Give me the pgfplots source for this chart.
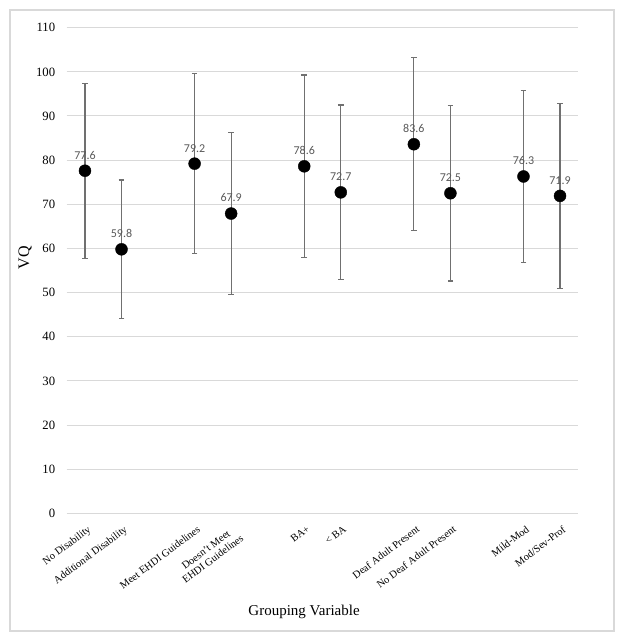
\documentclass[border=0pt]{standalone}
\usepackage{pgfplots}
\pgfplotsset{compat=1.18}
\usepackage{pgfplotstable}
\usepackage{fontspec}
\setmainfont{Liberation Serif}
\newfontfamily\calibri{Carlito}
\definecolor{gridgray}{HTML}{D9D9D9}
\definecolor{errgray}{HTML}{707070}
\definecolor{lblgray}{HTML}{595959}
\pgfplotstableread{
x y e
0 77.6 19.8
1 59.8 15.7
3 79.2 20.4
4 67.9 18.4
6 78.6 20.7
7 72.7 19.8
9 83.6 19.6
10 72.5 19.9
12 76.3 19.5
13 71.9 21.0
}\vqdata
\begin{document}
\begin{tikzpicture}
\useasboundingbox (-66.7pt,-128.7pt) rectangle (557.3pt,513.3pt);
\draw[gridgray, line width=1.2pt] (-56.7pt,-117.7pt) rectangle (547.3pt,503.3pt);
\begin{axis}[
  at={(0pt,0pt)}, anchor=south west,
  scale only axis, width=511.6pt, height=485.6pt,
  xmin=-0.5, xmax=13.5, ymin=0, ymax=110,
  ytick={0,10,...,110},
  ymajorgrids, grid style={gridgray, line width=1pt},
  axis line style={draw=none},
  tick style={draw=none},
  xtick={0,1,3,4,6,7,9,10,12,13},
  xticklabels={No Disability, Additional Disability, Meet EHDI Guidelines, {Doesn't Meet\\EHDI Guidelines}, BA+, < BA, Deaf Adult Present, No Deaf Adult Present, Mild-Mod, Mod/Sev-Prof},
  xticklabel style={rotate=37, anchor=north east, font=\fontsize{10.5}{11.5}\selectfont, align=center, yshift=-7pt, xshift=-2pt},
  yticklabel style={font=\fontsize{12.7}{14}\selectfont, xshift=-8pt},
  /pgf/number format/assume math mode=true,
  xlabel={Grouping Variable},
  xlabel style={at={(rel axis cs:0.464,-0.2026)}, anchor=center, font=\fontsize{15}{17}\selectfont},
  ylabel={VQ},
  ylabel style={at={(rel axis cs:-0.0815,0.526)}, anchor=center, rotate=0, font=\fontsize{16}{18}\selectfont},
  clip=false,
]
\addplot[only marks, mark=*, mark size=6pt, mark options={fill=black, draw=black},
  error bars/.cd, y dir=both, y explicit,
  error bar style={errgray, line width=1.2pt},
  error mark options={rotate=90, errgray, mark size=2.8pt, line width=1.2pt}]
  table[x=x, y=y, y error=e] {\vqdata};
\addplot[only marks, mark=none,
  nodes near coords,
  point meta=y,
  every node near coord/.append style={font=\calibri\fontsize{12}{13}\selectfont, text=lblgray, anchor=south, yshift=8pt, /pgf/number format/fixed, /pgf/number format/precision=1, /pgf/number format/fixed zerofill, /pgf/number format/assume math mode=true}]
  table[x=x, y=y] {\vqdata};
\end{axis}
\end{tikzpicture}
\end{document}
